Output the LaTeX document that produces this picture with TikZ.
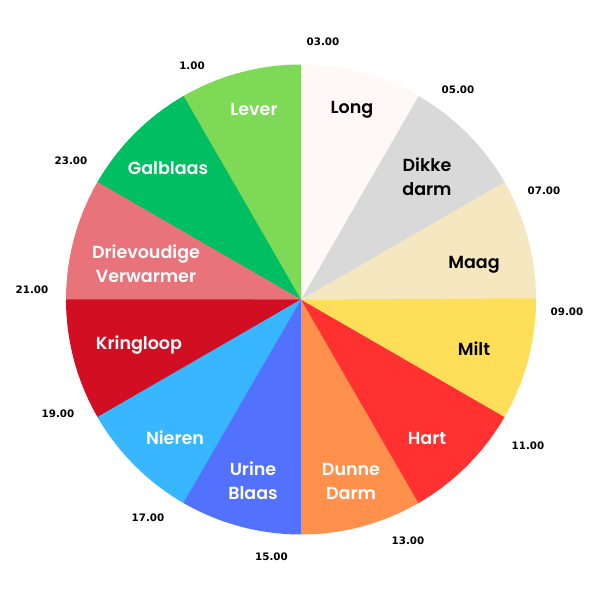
\documentclass[tikz,border=0pt]{standalone}
\usepackage{fontspec}
\setmainfont{Poppins}[BoldFont={Poppins SemiBold}]
\newfontfamily\timefont{DejaVu Sans}
\definecolor{cMaag}{HTML}{F5E7BF}
\definecolor{cDikke}{HTML}{D9D9D9}
\definecolor{cLong}{HTML}{FFF8F8}
\definecolor{cLever}{HTML}{7ED957}
\definecolor{cGal}{HTML}{00BF63}
\definecolor{cDrie}{HTML}{E8737A}
\definecolor{cKring}{HTML}{D20F22}
\definecolor{cNier}{HTML}{38B6FF}
\definecolor{cUrine}{HTML}{5271FF}
\definecolor{cDunne}{HTML}{FF914D}
\definecolor{cHart}{HTML}{FF3131}
\definecolor{cMilt}{HTML}{FFDE59}
\tikzset{
  slicelab/.style={font=\fontsize{17.5}{24}\selectfont\bfseries, align=center, inner sep=0pt},
  wlab/.style={slicelab, text=white},
  blab/.style={slicelab, text=black},
  timelab/.style={font=\timefont\fontsize{10.3}{12}\selectfont\bfseries, text=black, inner sep=0pt}
}
\begin{document}
\begin{tikzpicture}[x=1pt,y=1pt]
\useasboundingbox (0,0) rectangle (600,600);
\fill[white] (0,0) rectangle (600,600);
\coordinate (c) at (301,300.5);
\def\R{235}
\foreach \a/\col in {0/cMaag,30/cDikke,60/cLong,90/cLever,120/cGal,150/cDrie,180/cKring,210/cNier,240/cUrine,270/cDunne,300/cHart,330/cMilt}{
  \fill[\col] (c) -- ++(\a:\R) arc[start angle=\a, end angle=\a+30.3, radius=\R] -- cycle;
}
% slice labels
\node[wlab] (lever) at (254,491) {Lever};
\node[blab] (long) at (352,490) {Long};
\node[blab] (dikke) at (427,423) {Dikke\\darm};
\node[blab] (maag) at (474,335) {Maag};
\node[blab] (milt) at (474,251) {Milt};
\node[wlab] (hart) at (427,162) {Hart};
\node[wlab] (dunne) at (351,119) {Dunne\\Darm};
\node[wlab] (urine) at (253,119) {Urine\\Blaas};
\node[wlab] (nieren) at (175,162) {Nieren};
\node[wlab] (kring) at (139,255) {Kringloop};
\node[wlab] (drie) at (146,336) {Drievoudige\\Verwarmer};
\node[wlab] (gal) at (168,432) {Galblaas};
% time labels
\node[timelab] (t03) at (323,558) {03.00};
\node[timelab] (t01) at (192,534) {1.00};
\node[timelab] (t05) at (458,510) {05.00};
\node[timelab] (t23) at (71,439) {23.00};
\node[timelab] (t07) at (544,409) {07.00};
\node[timelab] (t21) at (32,310) {21.00};
\node[timelab] (t09) at (567,288) {09.00};
\node[timelab] (t19) at (58,186) {19.00};
\node[timelab] (t11) at (528,154) {11.00};
\node[timelab] (t17) at (148,82) {17.00};
\node[timelab] (t13) at (408,59) {13.00};
\node[timelab] (t15) at (271.5,43) {15.00};
\end{tikzpicture}
\end{document}
